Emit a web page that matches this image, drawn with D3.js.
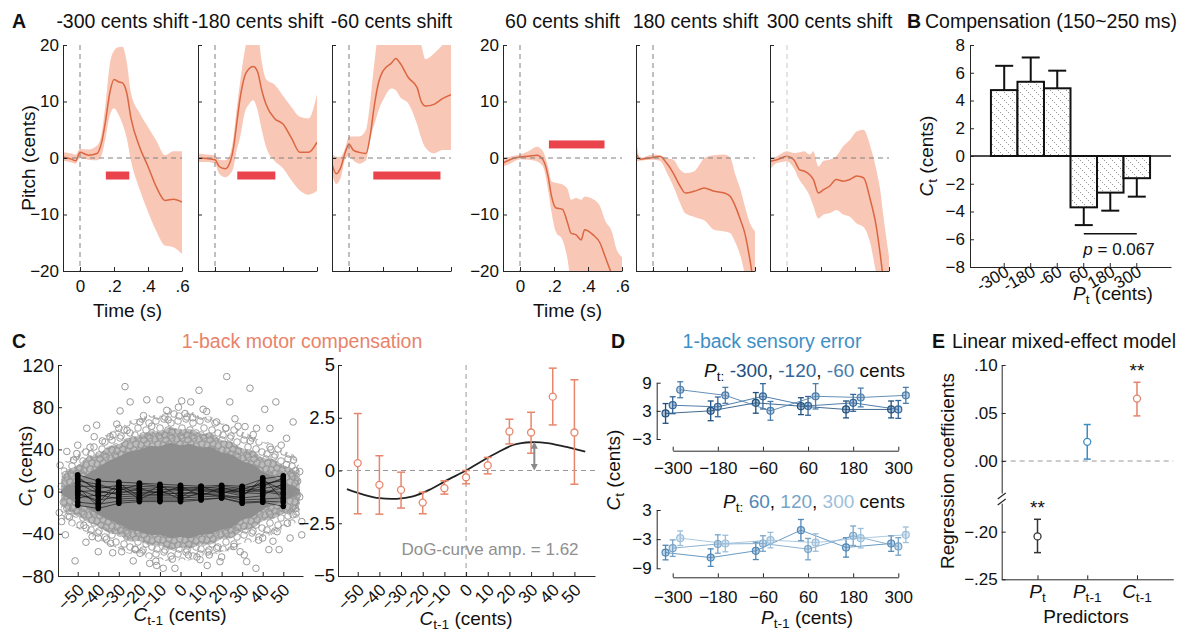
<!DOCTYPE html>
<html><head><meta charset="utf-8">
<script src="https://cdn.jsdelivr.net/npm/d3@7"></script>
<style>
body{margin:0;background:#fff}
svg{font-family:"Liberation Sans",Arial,sans-serif}
.axis path,.axis line{stroke:#262626;stroke-width:1}
.axis text{font-size:17px;fill:#111}
</style></head><body>
<svg id="fig" width="1186" height="635"></svg>
<script>
// ---- panel A: pitch traces, rows are [time s, mean, lower, upper] in cents
const shiftTitles = ["-300 cents shift","-180 cents shift","-60 cents shift","60 cents shift","180 cents shift","300 cents shift"];
const pitchN300 = [[-0.1,0.2,-0.5,1.0],[-0.05,-0.2,-0.8,0.8],[-0.025,-0.5,-1.0,0.6],[0,1.0,0.0,1.6],[0.05,0.5,-0.3,1.5],[0.1,0.8,-0.4,2.2],[0.125,2.5,0.3,4.0],[0.15,6.5,3.5,9.5],[0.175,11.5,7.5,16.5],[0.2,13.9,8.8,19.0],[0.225,13.5,7.8,19.6],[0.25,13.3,6.0,19.7],[0.275,11.5,3.5,17.0],[0.3,7.0,-0.5,11.5],[0.35,2.0,-5.5,8.0],[0.4,-1.5,-9.5,5.5],[0.45,-5.2,-13.0,3.0],[0.5,-7.5,-15.5,0.5],[0.55,-7.3,-15.8,1.2],[0.6,-7.8,-17.0,1.2]];
const pitchN180 = [[-0.1,0,-0.7,0.8],[-0.05,-0.1,-0.7,0.6],[0,-0.3,-1.0,0.5],[0.025,-1.5,-2.8,-0.3],[0.06,-1.9,-3.4,-0.4],[0.09,-0.6,-2.8,0.8],[0.11,2.0,-1.5,4.0],[0.125,5.5,1.0,8.0],[0.15,11.0,4.0,14.0],[0.175,14.5,8.0,19.0],[0.2,15.8,9.5,22],[0.225,16.2,10.2,22],[0.25,15.3,8.5,22],[0.275,12.0,5.0,17.0],[0.3,9.5,2.0,14.0],[0.35,7.0,-0.5,13.0],[0.4,6.0,-1.8,11.0],[0.45,3.5,-4.0,9.0],[0.5,1.0,-5.8,7.3],[0.55,1.0,-6.5,7.0],[0.6,2.8,-5.8,11.3]];
const pitchN60 = [[-0.1,-1.0,-2.8,0.8],[-0.075,-2.8,-4.6,0.2],[-0.05,-1.8,-3.6,0.2],[-0.02,1.2,0.0,2.0],[0,2.5,0.3,3.8],[0.025,1.4,-0.4,3.8],[0.06,1.0,-1.0,3.8],[0.1,0.8,-0.4,5.0],[0.125,4.0,3.5,10.0],[0.15,9.5,6.0,17.0],[0.175,13.5,8.5,22],[0.2,15.4,10.2,22],[0.25,16.8,12.3,22],[0.275,17.6,12.0,22],[0.3,16.8,10.8,22],[0.35,14.2,9.6,22],[0.4,12.5,6.0,22],[0.425,10.0,3.5,20],[0.45,9.2,1.8,17.5],[0.5,9.5,0.8,18.5],[0.55,10.5,1.4,20],[0.6,11.2,1.4,22]];
const pitchP60 = [[-0.1,-0.9,-1.5,-0.3],[-0.06,-0.3,-1.0,0.2],[0,0.2,-0.2,0.6],[0.05,0.3,-0.3,1.2],[0.1,0.5,-0.6,2.0],[0.135,-0.3,-1.5,1.2],[0.165,-3.2,-5.6,-1.5],[0.185,-6.7,-9.5,-4.1],[0.21,-8.8,-13.0,-4.4],[0.25,-9.1,-14.5,-4.7],[0.28,-11.5,-18.0,-5.5],[0.3,-13.3,-22,-7.4],[0.33,-13.6,-23,-7.1],[0.36,-14.5,-23,-7.4],[0.38,-12.7,-23,-6.8],[0.43,-13.6,-23,-7.3],[0.47,-15.0,-23,-8.5],[0.5,-17.4,-23,-11.0],[0.54,-20.5,-24,-13.0],[0.57,-22,-25,-16.3],[0.6,-24,-26,-17.5]];
const pitchP180 = [[-0.1,0.8,-0.6,3.3],[-0.075,-0.2,-0.5,0.0],[0,0.1,-0.3,0.6],[0.04,0.3,-0.5,0.4],[0.08,-0.9,-2.5,0.0],[0.12,-2.7,-5.0,-0.3],[0.16,-5.0,-8.0,-2.1],[0.19,-6.2,-9.8,-2.7],[0.24,-5.9,-10.4,-2.4],[0.28,-5.5,-10.8,-0.9],[0.3,-5.3,-11.0,0.0],[0.36,-5.9,-12.7,0.5],[0.42,-6.2,-13.0,0.6],[0.455,-6.8,-13.3,0.0],[0.485,-8.6,-15.0,-3.0],[0.515,-11.0,-17.4,-5.6],[0.54,-13.3,-20.5,-8.5],[0.57,-18.0,-24,-11.5],[0.6,-24,-26,-13.0]];
const pitchP300 = [[-0.1,-0.6,-2.1,-0.3],[-0.06,-0.3,-0.9,0.3],[0,0.3,-0.6,1.2],[0.04,-0.3,-1.8,0.9],[0.075,-2.1,-4.0,1.0],[0.1,-2.3,-5.0,1.2],[0.135,-3.0,-6.8,0.6],[0.155,-3.8,-8.5,1.2],[0.185,-6.2,-10.7,-1.5],[0.215,-5.6,-10.0,-0.5],[0.25,-5.0,-9.8,-0.3],[0.29,-3.8,-9.2,0.3],[0.33,-4.1,-10.0,2.1],[0.37,-3.8,-10.4,3.2],[0.41,-3.2,-11.6,4.7],[0.45,-3.5,-12.2,5.0],[0.49,-7.4,-15.1,2.1],[0.525,-12.1,-20.5,-2.0],[0.55,-17.4,-24,-6.0],[0.565,-21,-26,-9.8],[0.6,-26,-28,-17.5]];
// significant windows: [start s, end s, drawn at cents]
const sigWindows = [[0.152,0.29,-3.1],[0.131,0.355,-3.1],[0.143,0.538,-3.1],[0.17,0.497,2.4],null,null];

// ---- panel B
const compCats = ["-300","-180","-60","60","180","300"];
const compMean = [4.75,5.35,4.88,-3.7,-2.64,-1.6];
const compSem = [1.75,1.75,1.27,1.28,1.3,1.33];

// ---- panel C
const binX = [-50,-40,-30,-20,-10,0,10,20,30,40,50];
const subjCt = [
  [16,10,9,8,7,6,5,6,5,12,15],[12,3,6,5,4,3,4,3,2,8,10],[8,-2,4,3,2,2,1,2,0,5,13],
  [5,5,2,1,0,1,2,1,-2,3,6],[2,-5,0,-1,-1,-2,0,0,-4,10,2],[0,1,-3,-2,-3,-1,-2,-1,1,0,-3],
  [-3,-8,-5,-4,-4,-4,-3,-3,-6,-4,8],[-6,-3,-7,-6,-6,-6,-5,-4,-8,-7,-6],[-10,-12,-9,-8,-8,-8,-7,-6,-10,-9,-10],
  [-13,-16,-11,-9.5,-9.5,-9.5,-8,-6,-11,-10,-14],[10,7,1,7,5,4,3,5,3,1,-1],[-1,-10,8,-5,6,-5,5,-2,4,6,12],
  [14,0,-2,3,-2,5,-4,4,-1,-2,4],[4,-14,5,-7,1,-7,-1,-5,-5,13,-8]];
// outline of the scatter cloud, three density levels
const cloudX = [-58,-55,-50,-45,-40,-35,-30,-25,-20,-15,-10,-5,0,5,10,15,20,25,30,35,40,45,50,55,58];
const outerHi = [22,31,35,45,47,56,59,67,69,73,72,79,75,76,71,71,65,63,57,53,47,47,39,35,24];
const outerLo = [-24,-31,-35,-41,-45,-51,-54,-59,-59,-64,-64,-67,-65,-65,-61,-61,-57,-56,-49,-48,-43,-41,-35,-31,-26];
const midHi = [12,20,25,33,35,43,45,51,53,57,57,61,59,59,55,55,49,47,41,39,32,31,25,21,12];
const midLo = [-12,-18,-23,-29,-33,-39,-41,-47,-47,-51,-51,-55,-53,-54,-50,-50,-45,-44,-37,-35,-28,-26,-21,-19,-12];
const coreHi = [2,6,11,17,23,29,33,38,40,43,43,46,44,45,42,42,37,35,29,26,19,15,9,5,2];
const coreLo = [-2,-6,-11,-16,-22,-27,-31,-36,-38,-41,-41,-44,-43,-44,-41,-40,-36,-34,-27,-24,-17,-13,-8,-5,-2];
const scatterOut = [[-27,99.5],[22.5,109],[9,96],[33.8,98],[-29.4,76.5],[-24.5,85],[-16.4,87],[-10,87],[0.6,86],[5,85],[24,85],[46.4,85],[41,78],[-45.6,60],[-40.8,63],[54.8,66],[26.5,69],[12.7,76],[-55.3,38],[-58.6,25],[58,19],[57,-3],
  [-51.3,-65.7],[-40,-57],[-34,-49],[-28.6,-57],[-23,-65.7],[-11.6,-70],[-2.7,-72.7],[-8.4,-72.7],[9.5,-64.5],[19.2,-66.4],[32.2,-66.4],[36.7,-72.7],[43,-55],[48,-55],[53.3,-44],[59,-41],[-57.8,-28.4],[-56,-41],[-43,-42.7],[29,-57],[17.6,-53.7],[-19.7,-58.5],[3.8,-60],[54.8,-22],[59,-28.4],[-55.3,-15.8],[-53.7,9.5],
  [-34.3,52],[-19.7,66],[-6.7,77],[2.2,74],[17.6,66],[31.4,61.6],[43.5,60],[35.4,54],[-50.5,36],[51.6,50.5],[-48.9,22],[51.6,25.6],
  [-52,30],[-47,-32],[-44,42],[-38,48],[-36,-45],[-26,58],[-22,-55],[-14,62],[-6,68],[-4,-64],[6,70],[8,-62],[14,-60],[22,60],[26,-52],[34,48],[38,-46],[44,40],[47,-38],[52,-30],[55,30],[-58,5],[58,-5],[-57,-10],[57,10],[-12,-66],[28,62],[-30,60],[-40,-44],[40,-44],
  [-56,16],[-54,-24],[-50,44],[-46,-48],[-42,52],[-33,-58],[-31,64],[-18,72],[-15,-68],[-1,80],[11,78],[13,-70],[20,-62],[31,-60],[37,60],[45,-47],[49,44],[56,-16],[56,20],[-59,-20]];
const motorMean = [0.35,-0.68,-0.92,-1.52,-0.84,-0.32,0.24,1.85,1.8,3.5,1.8];
const motorHi = [2.7,0.7,-0.08,-1.03,-0.49,0,0.62,2.43,2.76,4.85,4.3];
const motorLo = [-2.05,-2.07,-1.78,-2.05,-1.12,-0.63,-0.16,1.26,0.82,2.16,-0.65];
const dogX = [-55,-47,-40,-32,-24.5,-17,-9,0,7,14.5,22,30,37.5,45,55];
const dogY = [-0.88,-1.15,-1.31,-1.34,-1.23,-0.92,-0.47,0,0.43,0.85,1.22,1.34,1.3,1.14,0.9];

// ---- panel D
const prevShift = [-300,-180,-60,60,180,300];
const dTopNames = ["-300","-120","-60"];
const dTop = [[2.45,3.0,4.7,4.0,3.3,3.3],[4.2,3.85,6.1,4.06,4.7,3.3],[7.5,6.3,3.0,6.1,5.85,6.3]];
const dTopErr = [[2.1,2.1,2.2,1.8,1.8,1.8],[1.8,2.1,2.7,2.0,1.8,1.9],[1.7,1.7,2.0,2.7,2.0,1.7]];
const dBotNames = ["60","120","300"];
const dBot = [[-5.76,-6.8,-5.4,-1.15,-4.7,-3.9],[-4.85,-4.0,-3.9,-5.05,-2.3,-4.5],[-2.8,-3.9,-3.2,-3.7,-2.8,-2.1]];
const dBotErr = [[1.5,1.8,1.8,2.2,2.0,1.6],[1.7,1.9,1.6,2.2,2.0,1.8],[1.5,1.7,1.6,1.8,2.0,1.6]];

// ---- panel E
const predNames = [["P","t"],["P","t-1"],["C","t-1"]];
const coef = [-0.205,0.02,0.065];
const coefLo = [-0.222,0.002,0.047];
const coefHi = [-0.187,0.038,0.082];
const coefStar = ["**","","**"];

const svg = d3.select("#fig");
const defs = svg.append("defs");

function label(g, x, y, parts, o = {}) {
  const fs = o.fs || 19;
  const t = g.append("text").attr("x", x).attr("y", y).attr("font-size", fs)
    .attr("text-anchor", o.anchor || "start").attr("fill", o.fill || "#111");
  if (o.rot) t.attr("transform", `rotate(${o.rot},${x},${y})`);
  if (o.bold) t.attr("font-weight", "bold");
  if (typeof parts === "string") parts = [{t: parts}];
  let shift = 0;
  parts.forEach(p => {
    const target = p.sub ? fs * 0.22 : 0;
    const ts = t.append("tspan").attr("dy", target - shift).text(p.t);
    shift = target;
    if (p.sub) ts.attr("font-size", fs * 0.72);
    if (p.i) ts.attr("font-style", "italic");
    if (p.c) ts.attr("fill", p.c);
  });
  return t;
}
function axis(g, gen, tx, ty) {
  const a = g.append("g").attr("class", "axis").attr("transform", `translate(${tx},${ty})`).call(gen);
  a.attr("font-size", null).attr("font-family", null);
  return a;
}
function dash(g, x1, y1, x2, y2, col) {
  g.append("line").attr("x1", x1).attr("y1", y1).attr("x2", x2).attr("y2", y2)
    .attr("stroke", col || "#808080").attr("stroke-width", 1).attr("stroke-dasharray", "5,4");
}
// texture tile for the overlapping scatter circles
function cloudTile(id, bg, pts) {
  const p = defs.append("pattern").attr("id", id).attr("patternUnits", "userSpaceOnUse").attr("width", 22).attr("height", 19);
  p.append("rect").attr("width", 22).attr("height", 19).attr("fill", bg);
  pts.forEach(q => [-22, 0, 22].forEach(dx => [-19, 0, 19].forEach(dy =>
    p.append("circle").attr("cx", q[0] + dx).attr("cy", q[1] + dy).attr("r", 3.3)
      .attr("fill", "none").attr("stroke", "#939393").attr("stroke-width", 0.9))));
}
cloudTile("cloudOuter", "#fff", [[2,3],[10,1],[17,5],[6,10],[14,12],[20,15],[3,17],[11,18]]);
cloudTile("cloudMid", "#bdbdbd", [[1,2],[6,1],[12,3],[18,1],[4,7],[9,8],[15,7],[20,9],[2,13],[7,14],[13,12],[18,14],[5,18],[11,17],[16,18]]);

//#region A
const aData = [pitchN300, pitchN180, pitchN60, pitchP60, pitchP180, pitchP300];
const aLeft = [63,198,332,503,636,770], aW = 119, aTop = 45, aBot = 271;
const tfmt = d => d === 0 ? "0" : d3.format(".1f")(d).replace(/^0/, "");
aData.forEach((rows, i) => {
  const x = d3.scaleLinear().domain([-0.1, 0.6]).range([aLeft[i], aLeft[i] + aW]);
  const y = d3.scaleLinear().domain([-20, 20]).range([aBot, aTop]);
  const g = svg.append("g");
  defs.append("clipPath").attr("id", "clipA" + i).append("rect")
    .attr("x", aLeft[i]).attr("y", aTop).attr("width", aW).attr("height", aBot - aTop);
  const pg = g.append("g").attr("clip-path", `url(#clipA${i})`);
  pg.append("path").datum(rows).attr("fill", "#f9c7b6")
    .attr("d", d3.area().x(d => x(d[0])).y0(d => y(d[2])).y1(d => y(d[3])).curve(d3.curveMonotoneX));
  dash(g, aLeft[i], y(0), aLeft[i] + aW, y(0));
  dash(g, x(0), aTop, x(0), aBot, i == 5 ? "#c8c8c8" : "#808080");
  pg.append("path").datum(rows).attr("fill", "none").attr("stroke", "#db6641").attr("stroke-width", 1.5)
    .attr("d", d3.line().x(d => x(d[0])).y(d => y(d[1])).curve(d3.curveMonotoneX));
  const s = sigWindows[i];
  if (s) g.append("rect").attr("x", x(s[0])).attr("width", x(s[1]) - x(s[0]))
    .attr("y", y(s[2]) - 4).attr("height", 8).attr("fill", "#ea434c");
  const lab = (i == 0 || i == 3);
  axis(g, d3.axisLeft(y).tickValues([-20,-10,0,10,20]).tickFormat(lab ? d3.format("d") : "")
    .tickSizeInner(-4).tickSizeOuter(0).tickPadding(4), aLeft[i], 0);
  axis(g, d3.axisBottom(x).tickValues([0,0.2,0.4,0.6]).tickFormat(lab ? tfmt : "")
    .tickSizeInner(-4).tickSizeOuter(0).tickPadding(9), 0, aBot);
  label(g, aLeft[i] + aW / 2, 28, shiftTitles[i], {anchor: "middle", fs: 19.5});
  if (lab) label(g, aLeft[i] + aW / 2 + 5, 317, "Time (s)", {anchor: "middle"});
});
label(svg, 12, 28, "A", {bold: true, fs: 19.5});
label(svg, 35, 158, "Pitch (cents)", {anchor: "middle", rot: -90});

//#region B
{
  const g = svg.append("g");
  const pat = defs.append("pattern").attr("id", "hatch").attr("patternUnits", "userSpaceOnUse")
    .attr("width", 8).attr("height", 8);
  pat.append("rect").attr("width", 8).attr("height", 8).attr("fill", "#fff");
  pat.append("path").attr("d", "M0,0L8,8M-4,4L4,12M4,-4L12,4").attr("stroke", "#666")
    .attr("stroke-width", 1).attr("stroke-dasharray", "1,2");
  const bx = d3.scaleBand().domain(compCats).range([970, 1171]).paddingInner(0).paddingOuter(0.79);
  const by = d3.scaleLinear().domain([-8, 8]).range([267, 45]);
  const bw = bx.bandwidth();
  compCats.forEach((c, i) => {
    const v = compMean[i], cx = bx(c) + bw / 2;
    const e = v > 0 ? v + compSem[i] : v - compSem[i];
    g.append("line").attr("x1", cx).attr("x2", cx).attr("y1", by(v)).attr("y2", by(e)).attr("stroke", "#111").attr("stroke-width", 2);
    g.append("line").attr("x1", cx - 9).attr("x2", cx + 9).attr("y1", by(e)).attr("y2", by(e)).attr("stroke", "#111").attr("stroke-width", 2);
    g.append("rect").attr("x", bx(c)).attr("width", bw).attr("y", Math.min(by(v), by(0)))
      .attr("height", Math.abs(by(v) - by(0))).attr("fill", "url(#hatch)").attr("stroke", "#111").attr("stroke-width", 2);
  });
  g.append("line").attr("x1", 970).attr("x2", 1171).attr("y1", by(0)).attr("y2", by(0)).attr("stroke", "#111").attr("stroke-width", 1.5);
  axis(g, d3.axisLeft(by).tickValues(d3.range(-8, 9, 2)).tickFormat(d3.format("d"))
    .tickSizeInner(-4).tickSizeOuter(0).tickPadding(5), 970, 0);
  const xa = axis(g, d3.axisBottom(bx).tickSizeInner(-4).tickSizeOuter(0), 0, 267);
  xa.selectAll("text").attr("y", 0).attr("dy", 0).attr("text-anchor", "end")
    .attr("transform", "translate(6,8) rotate(-30)");
  g.append("line").attr("x1", bx("60") + bw / 2).attr("x2", bx("300") + bw / 2)
    .attr("y1", by(-5.6)).attr("y2", by(-5.6)).attr("stroke", "#111").attr("stroke-width", 1.5);
  label(g, 1119, 255, [{t: "p", i: true}, {t: " = 0.067"}], {anchor: "middle", fs: 17});
  label(g, 907, 28, "B", {bold: true, fs: 19.5});
  label(g, 925, 28, "Compensation (150~250 ms)", {fs: 19.5});
  label(g, 933, 156, [{t: "C", i: true}, {t: "t", sub: true}, {t: " (cents)"}], {anchor: "middle", rot: -90});
  label(g, 1113, 300, [{t: "P", i: true}, {t: "t", sub: true}, {t: " (cents)"}], {anchor: "middle"});
}

//#region C
{
  const g = svg.append("g");
  const x = d3.scaleLinear().domain([-59.6, 59.6]).range([58, 303]);
  const y = d3.scaleLinear().domain([-80, 120]).range([576, 365]);
  const band = (lo, hi) => d3.area().x(d => x(d)).y0((d, i) => y(lo[i])).y1((d, i) => y(hi[i])).curve(d3.curveCatmullRom)(cloudX);
  g.append("path").attr("d", band(outerLo, outerHi)).attr("fill", "url(#cloudOuter)");
  g.append("path").attr("d", band(midLo, midHi)).attr("fill", "url(#cloudMid)");
  g.append("path").attr("d", band(coreLo, coreHi)).attr("fill", "#8e8e8e");
  g.selectAll(".out").data(scatterOut).join("circle").attr("cx", d => x(d[0])).attr("cy", d => y(d[1]))
    .attr("r", 3.3).attr("fill", "none").attr("stroke", "#999").attr("stroke-width", 1);
  subjCt.forEach(row => {
    g.append("path").datum(row).attr("fill", "none").attr("stroke", "#111").attr("stroke-width", 0.8).attr("opacity", 0.8)
      .attr("d", d3.line().x((d, i) => x(binX[i])).y(d => y(d)));
    g.selectAll(null).data(row).join("circle").attr("cx", (d, i) => x(binX[i])).attr("cy", d => y(d))
      .attr("r", 2.8).attr("fill", "#000");
  });
  axis(g, d3.axisLeft(y).tickValues([-80,-40,0,40,80,120]).tickFormat(d3.format("d"))
    .tickSizeInner(-4).tickSizeOuter(0).tickPadding(4), 58, 0).selectAll("text").style("font-size", "19px");
  const xa = axis(g, d3.axisBottom(x).tickValues(binX).tickSizeInner(-4).tickSizeOuter(0), 0, 576);
  xa.selectAll("text").attr("y", 0).attr("dy", 0).attr("text-anchor", "end")
    .attr("transform", "translate(7,15) rotate(-45)");
  label(g, 32, 466, [{t: "C", i: true}, {t: "t", sub: true}, {t: " (cents)"}], {anchor: "middle", rot: -90});
  label(g, 180, 621, [{t: "C", i: true}, {t: "t-1", sub: true}, {t: " (cents)"}], {anchor: "middle"});

  // right: motor compensation
  const xr = d3.scaleLinear().domain([-59.1, 59.5]).range([338, 595]);
  const yr = d3.scaleLinear().domain([-5, 5]).range([576, 365]);
  dash(g, 338, yr(0), 595, yr(0), "#999");
  dash(g, xr(0), 365, xr(0), 576, "#999");
  g.append("path").datum(dogX.map((v, i) => [v, dogY[i]])).attr("fill", "none").attr("stroke", "#222").attr("stroke-width", 1.8)
    .attr("d", d3.line().x(d => xr(d[0])).y(d => yr(d[1])).curve(d3.curveCatmullRom));
  const oc = "#e8866b";
  binX.forEach((b, i) => {
    const cx = xr(b);
    g.append("line").attr("x1", cx).attr("x2", cx).attr("y1", yr(motorLo[i])).attr("y2", yr(motorHi[i])).attr("stroke", oc).attr("stroke-width", 1.5);
    [motorLo[i], motorHi[i]].forEach(v => g.append("line").attr("x1", cx - 4).attr("x2", cx + 4)
      .attr("y1", yr(v)).attr("y2", yr(v)).attr("stroke", oc).attr("stroke-width", 1.5));
    g.append("circle").attr("cx", cx).attr("cy", yr(motorMean[i])).attr("r", 3.5).attr("fill", "#fff").attr("stroke", oc).attr("stroke-width", 1.3);
  });
  const mk = defs.append("marker").attr("id", "ah").attr("viewBox", "0 0 10 10").attr("refX", 5).attr("refY", 5)
    .attr("markerWidth", 3.5).attr("markerHeight", 3.5).attr("orient", "auto-start-reverse");
  mk.append("path").attr("d", "M0,0L10,5L0,10z").attr("fill", "#8a8a8a");
  g.append("line").attr("x1", xr(31.5)).attr("x2", xr(31.5)).attr("y1", yr(0.15)).attr("y2", yr(1.2))
    .attr("stroke", "#8a8a8a").attr("stroke-width", 2).attr("marker-start", "url(#ah)").attr("marker-end", "url(#ah)");
  label(g, 490, 555, "DoG-curve amp. = 1.62", {anchor: "middle", fs: 17, fill: "#8f8f8f"});
  axis(g, d3.axisLeft(yr).tickValues([-5,-2.5,0,2.5,5]).tickFormat(d3.format("~g"))
    .tickSizeInner(-4).tickSizeOuter(0).tickPadding(3), 338, 0).selectAll("text").style("font-size", "18.5px");
  const xb = axis(g, d3.axisBottom(xr).tickValues(binX).tickSizeInner(-4).tickSizeOuter(0), 0, 576);
  xb.selectAll("text").attr("y", 0).attr("dy", 0).attr("text-anchor", "end")
    .attr("transform", "translate(7,15) rotate(-45)");
  label(g, 466, 625, [{t: "C", i: true}, {t: "t-1", sub: true}, {t: " (cents)"}], {anchor: "middle"});
  label(g, 12, 348, "C", {bold: true, fs: 19.5});
  label(g, 302, 348, "1-back motor compensation", {anchor: "middle", fs: 19.5, fill: "#e8836a"});
}

//#region D
{
  const g = svg.append("g");
  const x = d3.scaleLinear().domain([-300, 300]).range([672.7, 898.3]);
  const offs = [-19, 0, 20];
  const topColors = ["#21507e", "#34669a", "#4b7dab"];
  const botColors = ["#5088b7", "#79a4c8", "#9dbfda"];
  const panels = [
    {y: d3.scaleLinear().domain([-3, 9]).range([439, 382.7]), ticks: [-3, 3, 9], ax: 450.7, vals: dTop, err: dTopErr, cols: topColors, lab: 474},
    {y: d3.scaleLinear().domain([-9, 3]).range([568.3, 510]), ticks: [-9, -3, 3], ax: 577.3, vals: dBot, err: dBotErr, cols: botColors, lab: 603}];
  panels.forEach(p => {
    p.vals.forEach((row, k) => {
      const c = p.cols[k];
      g.append("path").datum(row).attr("fill", "none").attr("stroke", c).attr("stroke-width", 1).attr("opacity", 0.85)
        .attr("d", d3.line().x((d, i) => x(prevShift[i] + offs[k])).y(d => p.y(d)));
      row.forEach((v, i) => {
        const cx = x(prevShift[i] + offs[k]), e = p.err[k][i];
        g.append("line").attr("x1", cx).attr("x2", cx).attr("y1", p.y(v - e)).attr("y2", p.y(v + e)).attr("stroke", c).attr("stroke-width", 1.3);
        [v - e, v + e].forEach(w => g.append("line").attr("x1", cx - 3).attr("x2", cx + 3).attr("y1", p.y(w)).attr("y2", p.y(w)).attr("stroke", c).attr("stroke-width", 1.3));
        g.append("circle").attr("cx", cx).attr("cy", p.y(v)).attr("r", 3.5).attr("fill", c).attr("fill-opacity", 0.35).attr("stroke", c).attr("stroke-width", 1.2);
      });
    });
    axis(g, d3.axisLeft(p.y).tickValues(p.ticks).tickFormat(d3.format("d")).tickSizeInner(-4).tickSizeOuter(0).tickPadding(5), 656.7, 0);
    const xa = axis(g, d3.axisBottom(x).tickValues(prevShift).tickFormat(d3.format("d")).tickSizeInner(-4).tickSizeOuter(0), 0, p.ax);
    xa.selectAll("text").attr("y", p.lab - p.ax).attr("dy", 0);
  });
  label(g, 611, 348, "D", {bold: true, fs: 19.5});
  label(g, 772, 348, "1-back sensory error", {anchor: "middle", fs: 19.5, fill: "#3d8fc6"});
  label(g, 905, 377, [{t: "P", i: true}, {t: "t:", sub: true}, {t: " "}, {t: dTopNames[0], c: topColors[0]}, {t: ", "},
    {t: dTopNames[1], c: topColors[1]}, {t: ", "}, {t: dTopNames[2], c: topColors[2]}, {t: " cents"}], {anchor: "end", fs: 19});
  label(g, 905, 508, [{t: "P", i: true}, {t: "t:", sub: true}, {t: " "}, {t: dBotNames[0], c: botColors[0]}, {t: ", "},
    {t: dBotNames[1], c: botColors[1]}, {t: ", "}, {t: dBotNames[2], c: botColors[2]}, {t: " cents"}], {anchor: "end", fs: 19});
  label(g, 620, 470, [{t: "C", i: true}, {t: "t", sub: true}, {t: " (cents)"}], {anchor: "middle", rot: -90});
  label(g, 807, 624, [{t: "P", i: true}, {t: "t-1", sub: true}, {t: " (cents)"}], {anchor: "middle"});
}

//#region E
{
  const g = svg.append("g");
  const x = d3.scaleLinear().domain([0.28, 3.73]).range([1001.7, 1173.3]);
  const yU = d3.scaleLinear().domain([-0.0333, 0.1]).range([493, 365]);
  const yL = d3.scaleLinear().domain([-0.25, -0.17]).range([579.3, 503.1]);
  const ys = v => v > -0.1 ? yU(v) : yL(v);
  dash(g, 1001.7, yU(0), 1173.3, yU(0), "#999");
  const cols = ["#333", "#3c8dc6", "#e3836a"];
  coef.forEach((v, i) => {
    const cx = x(i + 1), c = cols[i];
    g.append("line").attr("x1", cx).attr("x2", cx).attr("y1", ys(coefLo[i])).attr("y2", ys(coefHi[i])).attr("stroke", c).attr("stroke-width", 1.5);
    [coefLo[i], coefHi[i]].forEach(w => g.append("line").attr("x1", cx - 3.5).attr("x2", cx + 3.5).attr("y1", ys(w)).attr("y2", ys(w)).attr("stroke", c).attr("stroke-width", 1.5));
    g.append("circle").attr("cx", cx).attr("cy", ys(v)).attr("r", 3.5).attr("fill", "#fff").attr("stroke", c).attr("stroke-width", 1.3);
    if (coefStar[i]) label(g, cx, ys(coefHi[i]) - 5, coefStar[i], {anchor: "middle", fs: 19});
    label(g, cx, 598, [{t: predNames[i][0], i: true}, {t: predNames[i][1], sub: true}], {anchor: "middle", fs: 19});
  });
  const ef = d => d === 0 ? ".00" : d3.format(".2f")(d).replace("0.", ".");
  axis(g, d3.axisLeft(yU).tickValues([0, 0.05, 0.1]).tickFormat(ef).tickSizeInner(-4).tickSizeOuter(0).tickPadding(4), 1001.7, 0);
  axis(g, d3.axisLeft(yL).tickValues([-0.25, -0.2]).tickFormat(ef).tickSizeInner(-4).tickSizeOuter(0).tickPadding(4), 1001.7, 0);
  g.append("path").attr("d", "M997.7,499L1005.7,493M997.7,505L1005.7,499").attr("stroke", "#262626").attr("stroke-width", 1.2).attr("fill", "none");
  axis(g, d3.axisBottom(x).tickValues([1, 2, 3]).tickFormat("").tickSizeInner(-4).tickSizeOuter(0), 0, 579.3);
  label(g, 932, 348, "E", {bold: true, fs: 19.5});
  label(g, 952, 348, "Linear mixed-effect model", {fs: 19.5});
  label(g, 954, 471, "Regression coefficients", {anchor: "middle", rot: -90});
  label(g, 1086, 623, "Predictors", {anchor: "middle"});
}
</script></body></html>
